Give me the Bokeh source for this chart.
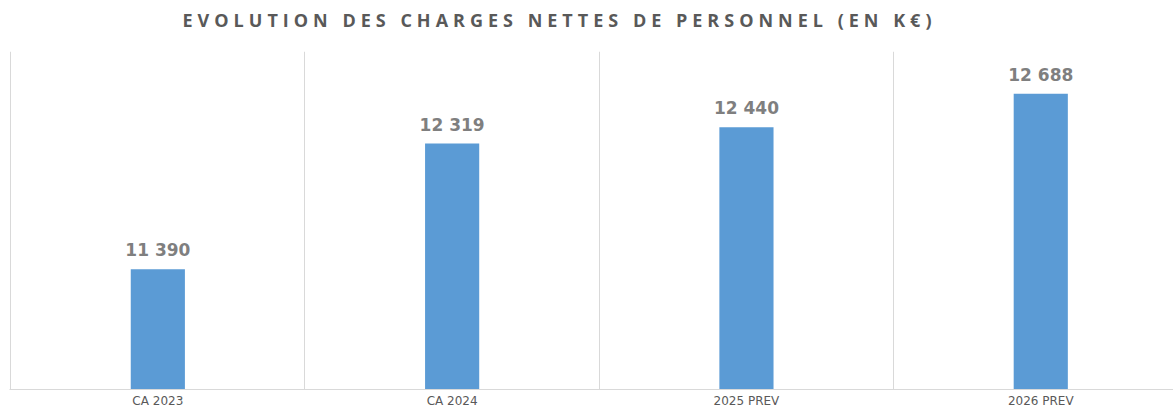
from bokeh.plotting import figure
from bokeh.models import ColumnDataSource, FixedTicker, Range1d, Div
from bokeh.layouts import column
from bokeh.core.properties import value
from bokeh.embed import file_html
from bokeh.resources import INLINE

categories = ["CA 2023", "CA 2024", "2025 PREV", "2026 PREV"]
values = [11390, 12319, 12440, 12688]
title_text = "EVOLUTION DES CHARGES NETTES DE PERSONNEL (EN K€)"

positions = [i + 0.5 for i in range(len(categories))]
labels = [f"{v:,}".replace(",", " ") for v in values]

source = ColumnDataSource(dict(x=positions, top=values, label=labels))

title = Div(text=title_text, width=1119, height=41, margin=0,
            styles={"font-family": "'Open Sans'", "font-weight": "bold",
                    "font-size": "18px", "letter-spacing": "5px",
                    "color": "#595959", "text-align": "center",
                    "line-height": "40px", "white-space": "nowrap"})

p = figure(width=1173, height=369, output_backend="svg", toolbar_location=None,
           x_range=Range1d(-0.004, 3.951), y_range=Range1d(10500, 13000),
           min_border_left=9, min_border_right=0, min_border_top=10, min_border_bottom=0,
           margin=0)

p.vbar(x="x", top="top", bottom=0, width=0.184, source=source,
       fill_color="#5B9BD5", line_color=None)

p.text(x="x", y="top", text="label", source=source, y_offset=-9,
       text_align="center", text_baseline="bottom",
       text_font=value("DejaVu Sans"), text_font_style="bold",
       text_font_size="17px", text_color="#7F7F7F")

p.yaxis.visible = False
p.ygrid.visible = False
p.outline_line_color = None

ax = p.xaxis[0]
ax.ticker = FixedTicker(ticks=positions)
ax.major_label_overrides = {pos: c for pos, c in zip(positions, categories)}
ax.major_tick_line_color = None
ax.major_tick_in = 0
ax.major_tick_out = 0
ax.minor_tick_line_color = None
ax.minor_tick_in = 0
ax.minor_tick_out = 0
ax.axis_line_color = "#D9D9D9"
ax.major_label_text_font = "DejaVu Sans"
ax.major_label_text_font_size = "12px"
ax.major_label_text_line_height = 1.0
ax.major_label_text_color = "#595959"
ax.major_label_standoff = 4

p.xgrid.ticker = FixedTicker(ticks=[0, 1, 2, 3, 4])
p.xgrid.grid_line_color = "#D9D9D9"
p.xgrid.grid_line_width = 1

layout = column(title, p, spacing=0, margin=0)
open("out.html", "w").write(file_html(layout, INLINE))
